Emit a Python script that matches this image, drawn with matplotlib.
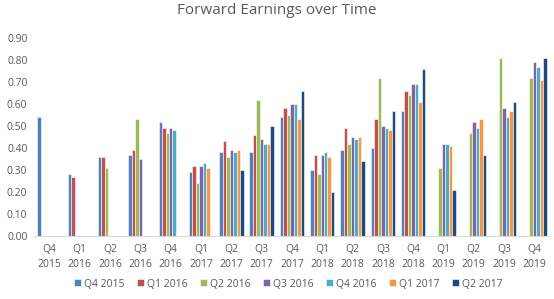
import numpy as np
import matplotlib.pyplot as plt

# quarters on the x axis
quarters = ["Q4\n2015", "Q1\n2016", "Q2\n2016", "Q3\n2016", "Q4\n2016",
            "Q1\n2017", "Q2\n2017", "Q3\n2017", "Q4\n2017",
            "Q1\n2018", "Q2\n2018", "Q3\n2018", "Q4\n2018",
            "Q1\n2019", "Q2\n2019", "Q3\n2019", "Q4\n2019"]

series_names = ["Q4 2015", "Q1 2016", "Q2 2016", "Q3 2016", "Q4 2016", "Q1 2017", "Q2 2017"]
n = np.nan

# one list per estimate vintage (nan = no estimate)
q4_2015 = [0.54, 0.28, 0.36, 0.37, 0.52, 0.29, 0.38, 0.38, 0.54, 0.30, 0.39, 0.40, 0.57, n, n, n, n]
q1_2016 = [n, 0.27, 0.36, 0.39, 0.49, 0.32, 0.43, 0.46, 0.58, 0.37, 0.49, 0.53, 0.66, n, n, n, n]
q2_2016 = [n, n, 0.31, 0.53, 0.47, 0.24, 0.36, 0.62, 0.55, 0.28, 0.42, 0.72, 0.64, 0.31, 0.47, 0.81, 0.72]
q3_2016 = [n, n, n, 0.35, 0.49, 0.32, 0.39, 0.44, 0.60, 0.37, 0.45, 0.50, 0.69, 0.42, 0.52, 0.58, 0.79]
q4_2016 = [n, n, n, n, 0.48, 0.33, 0.38, 0.42, 0.60, 0.38, 0.44, 0.49, 0.69, 0.42, 0.49, 0.54, 0.77]
q1_2017 = [n, n, n, n, n, 0.31, 0.39, 0.42, 0.53, 0.36, 0.45, 0.48, 0.61, 0.41, 0.53, 0.57, 0.71]
q2_2017 = [n, n, n, n, n, n, 0.30, 0.50, 0.66, 0.20, 0.34, 0.57, 0.76, 0.21, 0.37, 0.61, 0.81]

all_series = [q4_2015, q1_2016, q2_2016, q3_2016, q4_2016, q1_2017, q2_2017]
colors = ["#4F81BD", "#C0504D", "#9BBB59", "#8064A2", "#4BACC6", "#F79646", "#1F497D"]

plt.rcParams['font.family'] = ['Open Sans', 'DejaVu Sans']
txt = "#595959"

fig = plt.figure(figsize=(5.54, 2.99), dpi=100)
ax = fig.add_axes([0.062, 0.211, 0.93, 0.662])

x = np.arange(len(quarters))
w = 0.115
for i, (name, vals) in enumerate(zip(series_names, all_series)):
    ax.bar(x + (i - 3) * w, vals, width=w, color=colors[i], edgecolor="white",
           linewidth=0.4, label=name)

ax.set_xlim(-0.5, len(quarters) - 0.5)
ax.set_ylim(0, 0.9)
ax.set_yticks(np.arange(0, 0.91, 0.1))
ax.set_yticklabels(["%.2f" % v for v in np.arange(0, 0.91, 0.1)], fontsize=7.5, color=txt)
ax.set_xticks(x)
ax.set_xticklabels(quarters, fontsize=7.5, color=txt, linespacing=1.45)
ax.tick_params(length=0, pad=6)
ax.tick_params(axis="y", pad=5)

for s in ["top", "right", "left"]:
    ax.spines[s].set_visible(False)
ax.spines["bottom"].set_color("#d9d9d9")
ax.spines["bottom"].set_linewidth(0.8)

fig.suptitle("Forward Earnings over Time", fontsize=11, color=txt, y=0.99)

fig.legend(loc="lower center", bbox_to_anchor=(0.52, 0.0), ncol=7, frameon=False,
           fontsize=7.5, labelcolor=txt, handlelength=0.65, handleheight=0.65,
           handletextpad=0.3, columnspacing=1.2)

fig.savefig("out.png", dpi=100)
